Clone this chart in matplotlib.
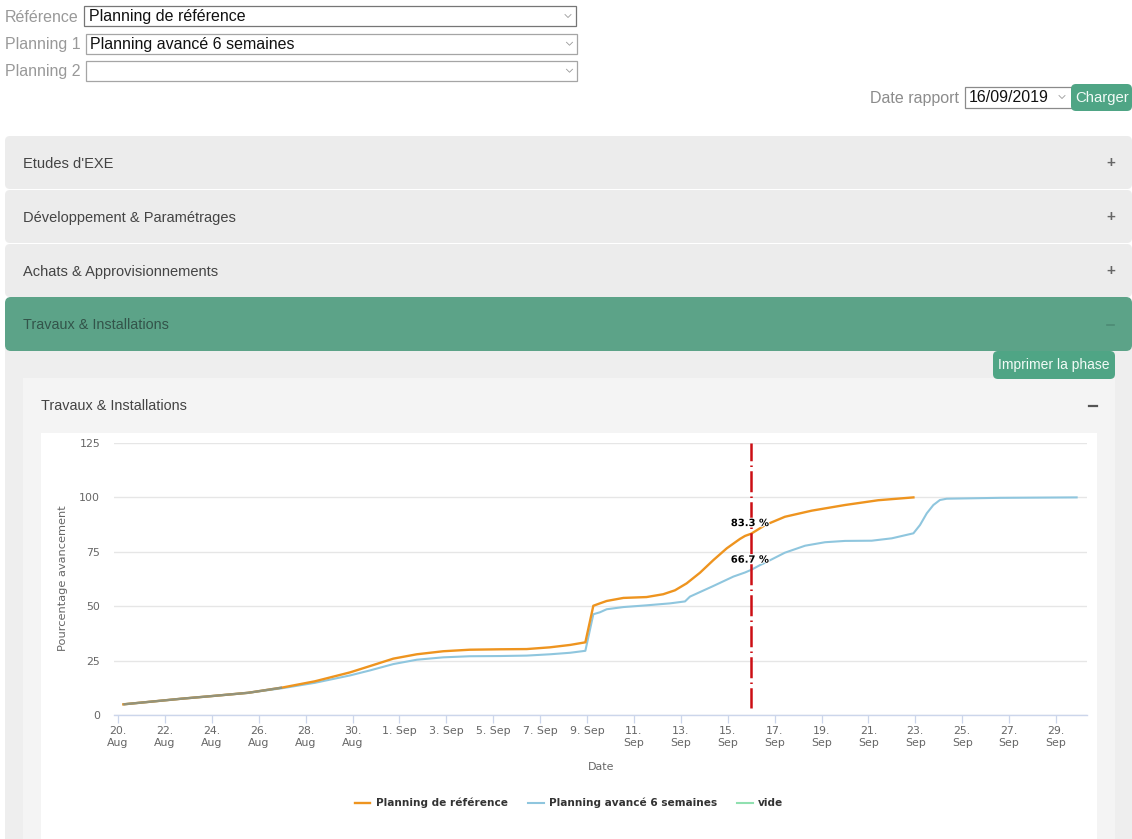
import matplotlib
matplotlib.use("Agg")
import matplotlib.pyplot as plt
import matplotlib.patheffects as pe
from matplotlib.patches import FancyBboxPatch, Rectangle

W, H = 1132, 839

ref_days = [0.23, 2.72, 4, 5.55, 7, 8.4, 9.9, 10.75, 11.74, 12.74, 13.87, 15, 16.3, 17.43, 18.42, 19.28, 19.93,
            20.27, 20.55, 20.84, 21.55, 22.54, 23.25, 23.75, 24.25, 24.82, 25.39, 25.96, 26.52, 26.74, 27, 27.6,
            28.44, 29.58, 31, 32.42, 33.92]
ref_vals = [4.9, 7.5, 8.7, 10.2, 12.6, 15.5, 19.6, 22.5, 25.9, 27.9, 29.3, 30, 30.2, 30.3, 31.1, 32.2, 33.4,
            50.2, 51.3, 52.4, 53.8, 54.2, 55.5, 57.3, 60.5, 65.4, 71.2, 76.6, 80.9, 82.3, 83.3, 87.3,
            91.1, 93.9, 96.5, 98.7, 100]
alt_days = [0.23, 2.72, 4, 5.55, 7, 8.4, 9.9, 10.75, 11.74, 12.74, 13.87, 15, 16.3, 17.43, 18.42, 19.28, 19.93,
            20.27, 20.55, 20.84, 21.55, 22.54, 23.54, 24.18, 24.39, 25.39, 26.24, 26.74, 27, 27.38, 27.6, 28.44,
            29.3, 30.15, 31, 32.14, 33, 33.92, 34.2, 34.49, 34.77, 35.05, 35.34, 37.6, 40.88]
alt_vals = [4.9, 7.5, 8.7, 10.2, 12.3, 14.8, 18.2, 20.5, 23.4, 25.4, 26.5, 27, 27.1, 27.3, 27.9, 28.6, 29.5,
            46.3, 47.2, 48.6, 49.6, 50.4, 51.3, 52.2, 54.4, 59.3, 63.6, 65.5, 66.7, 68.9, 70, 74.6,
            77.8, 79.4, 80, 80.1, 81.2, 83.5, 87.3, 92.7, 96.5, 98.8, 99.4, 99.8, 100]
empty_days, empty_vals = [], []

x_ticks = [0, 2, 4, 6, 8, 10, 12, 14, 16, 18, 20, 22, 24, 26, 28, 30, 32, 34, 36, 38, 40]
x_labels = ["20.\nAug", "22.\nAug", "24.\nAug", "26.\nAug", "28.\nAug", "30.\nAug", "1. Sep", "3. Sep", "5. Sep",
            "7. Sep", "9. Sep", "11.\nSep", "13.\nSep", "15.\nSep", "17.\nSep", "19.\nSep", "21.\nSep", "23.\nSep",
            "25.\nSep", "27.\nSep", "29.\nSep"]
y_ticks = [0, 25, 50, 75, 100, 125]
report_day = 27
report_labels = ["83.3 %", "66.7 %"]
series_names = ["Planning de référence", "Planning avancé 6 semaines", "vide"]
accordion = ["Etudes d'EXE", "Développement & Paramétrages", "Achats & Approvisionnements"]

fig = plt.figure(figsize=(W / 100, H / 100), dpi=100, facecolor="white")
ui = fig.add_axes([0, 0, 1, 1])
ui.set_xlim(0, W)
ui.set_ylim(H, 0)
ui.axis("off")
UI = ["Liberation Sans", "DejaVu Sans"]


def box(x0, y0, x1, y1, fc, r=6, ec="none", z=1, lw=0):
    ui.add_patch(FancyBboxPatch((x0 + r, y0 + r), x1 - x0 - 2 * r, y1 - y0 - 2 * r,
                                boxstyle=f"round,pad={r},rounding_size={r}", fc=fc, ec=ec, lw=lw, zorder=z))


def rect(x0, y0, x1, y1, fc, ec="none", lw=0, z=1):
    ui.add_patch(Rectangle((x0, y0), x1 - x0, y1 - y0, fc=fc, ec=ec, lw=lw, zorder=z))


def chevron(x, y):
    ui.plot([x - 3, x, x + 3], [y - 1.5, y + 1.5, y - 1.5], color="#999999", lw=0.6, zorder=3)


def txt(x, y, s, size=10.5, color="#333333", ha="left", **kw):
    ui.text(x, y + 1, s, fontsize=size, color=color, ha=ha, va="center", family=UI, zorder=4, **kw)


for label, value, xl, x0, x1, y0, y1, ec in [
    ("Référence", "Planning de référence", 5, 84, 575.5, 6, 26, "#767676"),
    ("Planning 1", "Planning avancé 6 semaines", 5, 85.5, 577, 33.5, 54, "#a5a5a5"),
    ("Planning 2", "", 5, 85.5, 577, 61, 80.5, "#a5a5a5"),
]:
    rect(x0, y0, x1, y1, "white", ec=ec, lw=0.9)
    txt(xl, (y0 + y1) / 2, label, size=11.5, color="#999999")
    if value:
        txt(x0 + 5, (y0 + y1) / 2, value, size=11.5, color="#111111")
    chevron(x1 - 7.5, (y0 + y1) / 2)

txt(959, 97, "Date rapport", size=11.5, color="#8c8c8c", ha="right")
rect(964.5, 87, 1072, 107.5, "white", ec="#8a8a8a", lw=0.9)
txt(969, 97, "16/09/2019", size=11.5, color="#111111")
chevron(1062, 97)
box(1071, 84, 1132, 111, "#4fa585", r=5, z=2)
txt(1102, 97, "Charger", size=10.7, color="#f2fbf7", ha="center")

for i, name in enumerate(accordion):
    y0 = 136 + i * 54
    box(5, y0, 1132, y0 + 53, "#ececec", r=5)
    txt(23, y0 + 27, name, size=10.5, color="#444444")
    txt(1110.5, y0 + 26, "+", size=11, color="#666666", ha="center", fontweight="bold")

rect(5, 340, 1132, 839, "#eeeeee")
box(5, 297, 1132, 351, "#5ca388", r=6, z=2)
txt(23, 324, "Travaux & Installations", size=10.4, color="#33544a")
ui.plot([1107, 1114], [325, 325], color="#4d8a74", lw=1.2, zorder=3)

box(993, 351, 1115, 379, "#4fa585", r=5, z=3)
txt(1054, 364, "Imprimer la phase", size=10, color="#f2fbf7", ha="center")

rect(23, 378, 1115, 839, "#f4f4f4")
txt(41, 405, "Travaux & Installations", size=10.4, color="#444444")
ui.plot([1089, 1097], [406, 406], color="#555555", lw=1.6, zorder=3)
rect(41, 433, 1097, 839, "white")

left, right, top, bottom = 114, 1087, 443, 715
ax = fig.add_axes([left / W, 1 - bottom / H, (right - left) / W, (bottom - top) / H], facecolor="none")
day_px = 23.45
ax.set_xlim((left - 118) / day_px, (right - 118) / day_px)
ax.set_ylim(0, 125)

for s in ["top", "left", "right"]:
    ax.spines[s].set_visible(False)
ax.spines["bottom"].set_color("#ccd6eb")
ax.spines["bottom"].set_linewidth(1)
ax.set_axisbelow(True)
ax.grid(axis="y", color="#e6e6e6", lw=1)
ax.set_yticks(y_ticks)
ax.set_yticklabels([str(v) for v in y_ticks])
ax.set_xticks(x_ticks)
ax.set_xticklabels(x_labels, linespacing=1.28)
ax.tick_params(axis="x", length=6, width=0.9, color="#ccd6eb", labelcolor="#666666", labelsize=7.9, pad=2)
ax.tick_params(axis="y", length=0, labelcolor="#666666", labelsize=7.9, pad=10)
for lab in ax.get_xticklabels():
    lab.set_ha("center")
    lab.set_va("top")

h1, = ax.plot(ref_days, ref_vals, color="#ee941f", lw=1.7, label=series_names[0], zorder=3,
              solid_joinstyle="round")
h2, = ax.plot(alt_days, alt_vals, color="#8fc6de", lw=1.5, label=series_names[1], zorder=2.9,
              solid_joinstyle="round")
h3, = ax.plot(empty_days, empty_vals, color="#90e0b0", lw=1.5, label=series_names[2])
# where the two plans coincide, the reference shows the blended colour of both lines
ax.plot(ref_days[:5], ref_vals[:5], color="#93937a", lw=1.7, zorder=3.1, solid_capstyle="butt")

ax.plot([report_day, report_day], [125, 3], color="#cc0e14", lw=1.8,
        linestyle=(1.3, (8.4, 1.7, 0.6, 1.7)), zorder=4, clip_on=False, dash_capstyle="butt")

for lbl, val in zip(report_labels, [88.2, 71.4]):
    t = ax.text(report_day - 0.05, val, lbl, fontsize=7.2, fontweight="bold", color="black",
                ha="center", va="center", zorder=6)
    t.set_path_effects([pe.withStroke(linewidth=1.4, foreground="white")])

fig.text(63 / W, 1 - 578 / H, "Pourcentage avancement", rotation=90, fontsize=8.2, color="#666666",
         ha="center", va="center")
fig.text(601 / W, 1 - 766.5 / H, "Date", fontsize=7.9, color="#666666", ha="center", va="center")

fig.legend(handles=[h1, h2, h3], labels=series_names, ncol=3, frameon=False,
           loc="center", bbox_to_anchor=(569 / W, 1 - 803 / H),
           prop={"size": 7.6, "weight": "bold"}, labelcolor="#333333",
           handlelength=1.5, handletextpad=0.5, columnspacing=1.9, borderpad=0)

fig.savefig("out.png", dpi=100)
